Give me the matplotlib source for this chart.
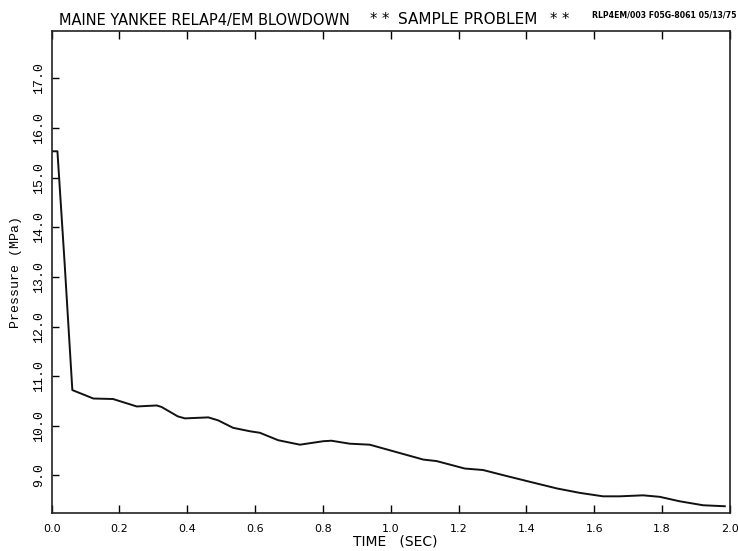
import numpy as np
import matplotlib.pyplot as plt

# blowdown pressure history
time_s = [0.0, 0.017, 0.038, 0.061, 0.123, 0.181, 0.251, 0.31, 0.324, 0.372,
          0.393, 0.462, 0.491, 0.535, 0.585, 0.614, 0.668, 0.732, 0.801, 0.825,
          0.879, 0.938, 1.017, 1.096, 1.135, 1.174, 1.218, 1.272, 1.341, 1.400,
          1.489, 1.557, 1.626, 1.675, 1.744, 1.793, 1.852, 1.921, 1.985]
pressure_mpa = [15.53, 15.53, 13.3, 10.72, 10.55, 10.54, 10.39, 10.41, 10.38, 10.19,
                10.15, 10.17, 10.11, 9.96, 9.89, 9.86, 9.71, 9.62, 9.69, 9.70,
                9.64, 9.62, 9.47, 9.32, 9.29, 9.22, 9.14, 9.11, 8.99, 8.89,
                8.74, 8.65, 8.58, 8.58, 8.60, 8.57, 8.48, 8.40, 8.38]

xticks = np.arange(0.0, 2.01, 0.2)
yticks = np.arange(9.0, 17.01, 1.0)

plot_font = "DejaVu Sans"
mono_font = "Liberation Mono"

W, H = 738, 551
fig = plt.figure(figsize=(W / 100, H / 100), dpi=100)
ax = fig.add_axes([0.070, 0.0695, 0.919, 0.874])

ax.plot(time_s, pressure_mpa, color="#111111", lw=1.4)

ax.set_xlim(0.0, 2.0)
ax.set_ylim(8.25, 17.95)
ax.set_xticks(xticks)
ax.set_xticklabels([f"{v:.1f}" for v in xticks], fontfamily=plot_font, fontsize=8)
ax.set_yticks(yticks)
ax.set_yticklabels([f"{v:.1f}" for v in yticks], fontfamily=mono_font, fontsize=9.5,
                   rotation=90, va="center")
ax.tick_params(axis="x", direction="in", length=6, pad=8, top=True, width=1)
ax.tick_params(axis="y", direction="in", length=5, pad=5, width=1)
for s in ax.spines.values():
    s.set_linewidth(1.2)
    s.set_color("#222222")

ax.set_xlabel("TIME   (SEC)", fontfamily=plot_font, fontsize=10)
ax.xaxis.set_label_coords(0.506, -0.046)
ax.set_ylabel("Pressure (MPa)", fontfamily=mono_font, fontsize=9.5, labelpad=8)

# title pieces placed in pixels
ty = 1 - 20 / H
fig.text(59 / W, ty, "MAINE YANKEE RELAP4/EM BLOWDOWN",
         fontfamily=plot_font, fontsize=10.5, va="center", ha="left")
fig.text(380 / W, ty, "* *", fontfamily=plot_font, fontsize=10.5, va="center", ha="center")
fig.text(398 / W, ty, "SAMPLE PROBLEM",
         fontfamily=plot_font, fontsize=11, va="center", ha="left")
fig.text(560 / W, ty, "* *", fontfamily=plot_font, fontsize=10.5, va="center", ha="center")
fig.text(736 / W, 1 - 15 / H, "RLP4EM/003 F05G-8061 05/13/75",
         fontfamily=plot_font, fontsize=5.6, va="center", ha="right", weight="bold")

fig.savefig("out.png", dpi=100)
